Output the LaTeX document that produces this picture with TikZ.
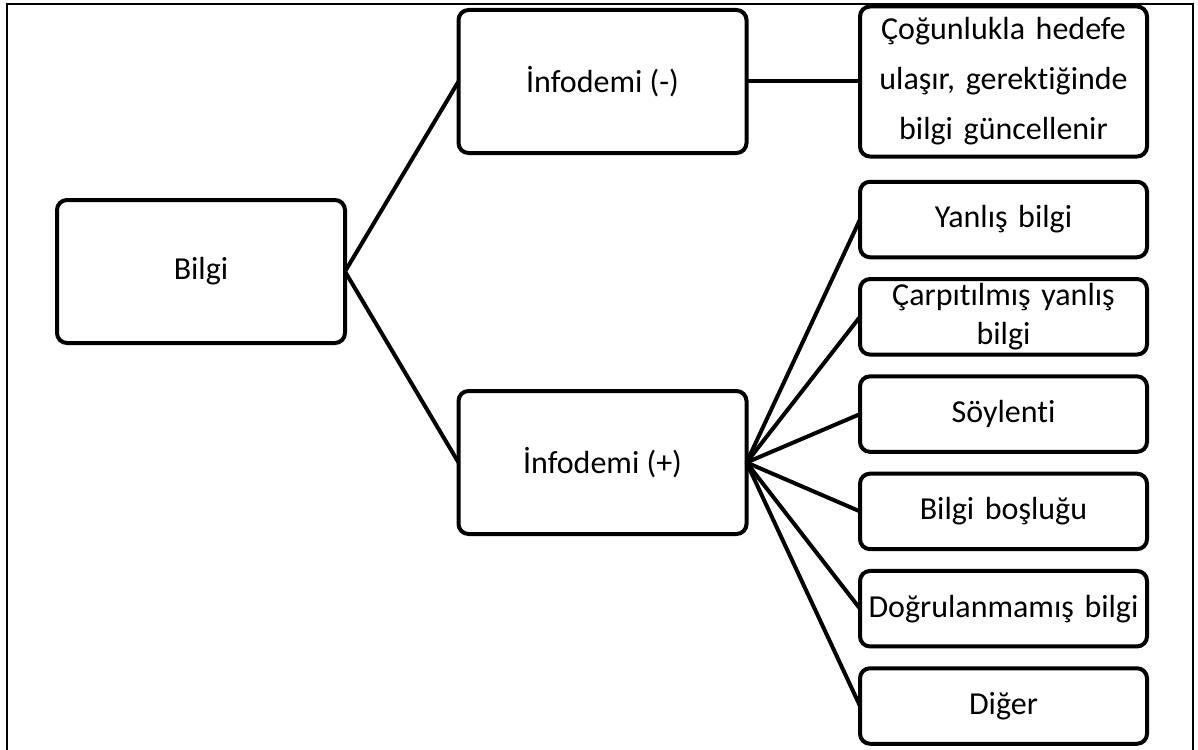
\documentclass[tikz,border=0pt]{standalone}
\usepackage{fontspec}
\setmainfont{Carlito}[Ligatures={CommonOff,ContextualOff}]
\usetikzlibrary{positioning}

\tikzset{mainbox/.style={minimum width=288pt, minimum height=143pt},
         leafbox/.style={minimum width=287pt, minimum height=75.5pt, text width=285pt}}

\begin{document}
\begin{tikzpicture}[x=1pt, y=-1pt, node distance=21.8pt and 21.8pt, line width=4pt,
    every node/.style={draw, rounded corners=10pt, fill=white, align=center, inner sep=0pt, outer sep=0pt, font=\fontsize{32}{39}\selectfont}]
            \useasboundingbox (0,0) rectangle (1198,749);
            \draw[line width=2pt] (7,4) rectangle (1193,770);
            \node[mainbox] (bilgi) at (201,271.5) {Bilgi};
            \node[mainbox] (infneg) at (602.5,81.5) {İnfodemi (-)};
            \node[mainbox] (infpos) at (602.5,462.5) {İnfodemi (+)};
            \node[leafbox, minimum height=150pt, font=\fontsize{32}{50}\selectfont] (cogun) at (1003.5,81.5) {Çoğunlukla hedefe\\ulaşır, gerektiğinde\\bilgi güncellenir};
            \node[leafbox] (yanlis) at (1003.5,219.5) {Yanlış bilgi};
            \node[leafbox, below=of yanlis] (carp) {Çarpıtılmış yanlış\\bilgi};
            \node[leafbox, below=of carp] (soylenti) {Söylenti};
            \node[leafbox, below=of soylenti] (bosluk) {Bilgi boşluğu};
            \node[leafbox, below=of bosluk] (dogru) {Doğrulanmamış bilgi};
            \node[leafbox, below=of dogru] (diger) {Diğer};
            \draw (bilgi.east) -- (infneg.west);
            \draw (bilgi.east) -- (infpos.west);
            \draw (infneg.east) -- (cogun.west);
            \draw (infpos.east) -- (yanlis.west);
            \draw (infpos.east) -- (carp.west);
            \draw (infpos.east) -- (soylenti.west);
            \draw (infpos.east) -- (bosluk.west);
            \draw (infpos.east) -- (dogru.west);
            \draw (infpos.east) -- (diger.west);
        \end{tikzpicture}
\end{document}
